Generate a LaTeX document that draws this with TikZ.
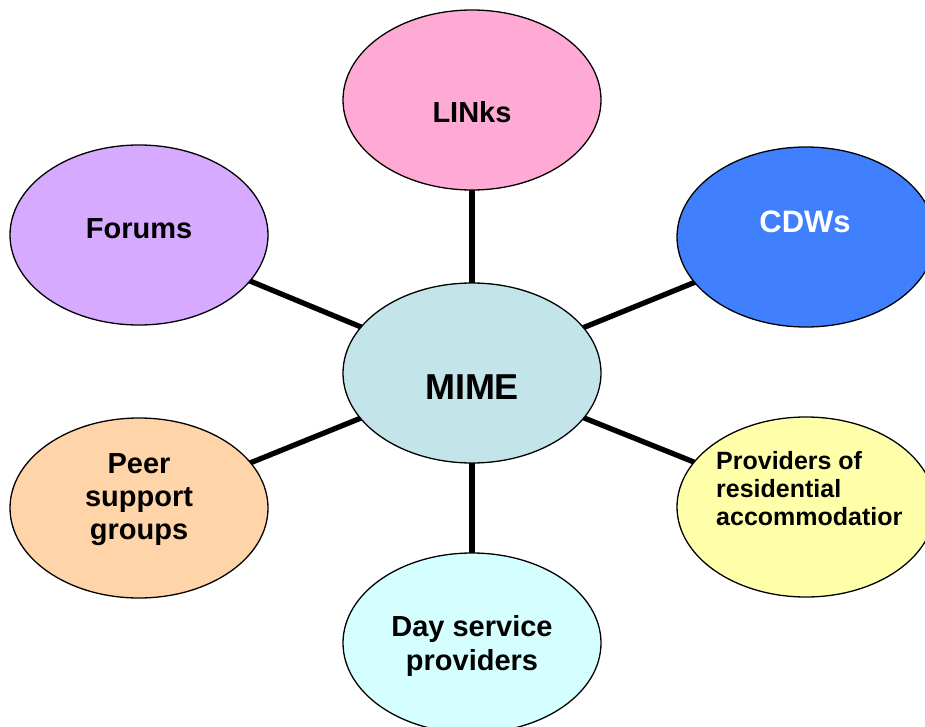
\documentclass[tikz,border=0pt]{standalone}
\usepackage{fontspec}
\setmainfont{Liberation Sans}
\usetikzlibrary{shapes.geometric,backgrounds}
\definecolor{cpink}{HTML}{FFAAD4}
\definecolor{cviolet}{HTML}{D5AAFF}
\definecolor{cblue}{HTML}{4080FF}
\definecolor{cmime}{HTML}{C3E4E8}
\definecolor{cpeach}{HTML}{FFD4A8}
\definecolor{cyellow}{HTML}{FFFFAA}
\definecolor{ccyan}{HTML}{D5FFFF}
\tikzset{
  bubble/.style={ellipse, draw=black, line width=1.3pt, minimum width=258pt, minimum height=180pt, inner sep=0pt},
  lbl/.style={inner sep=0pt, font=\bfseries\fontsize{29}{34}\selectfont, align=center},
  link/.style={line width=5.3pt, black}
}
\begin{document}
\begin{tikzpicture}[x=1pt,y=-1pt]
\useasboundingbox (0,0) rectangle (925,727);
\node[bubble, fill=cpink] (links) at (472,100) {};
\node[bubble, fill=cviolet] (forums) at (139,235) {};
\node[bubble, fill=cblue] (cdws) at (806,237) {};
\node[bubble, fill=cmime] (mime) at (472,373) {};
\node[bubble, fill=cpeach] (peer) at (139,508) {};
\node[bubble, fill=cyellow] (prov) at (806,507) {};
\node[bubble, fill=ccyan] (day) at (472,643) {};
\begin{scope}[on background layer]
  \draw[link] (mime.center) -- (links.center);
  \draw[link] (mime.center) -- (forums.center);
  \draw[link] (mime.center) -- (cdws.center);
  \draw[link] (mime.center) -- (peer.center);
  \draw[link] (mime.center) -- (prov.center);
  \draw[link] (mime.center) -- (day.center);
\end{scope}
\node[lbl] (tlinks) at (472,112) {LINks};
\node[lbl] (tforums) at (139,229) {Forums};
\node[lbl, text=white, font=\bfseries\fontsize{31}{36}\selectfont] (tcdws) at (805,222) {CDWs};
\node[lbl, font=\bfseries\fontsize{36}{42}\selectfont] (tmime) at (472,387) {MIME};
\node[lbl, font=\bfseries\fontsize{29}{33}\selectfont] (tpeer) at (139,500) {Peer\\support\\groups};
\node[lbl] (tday) at (472,646) {Day service\\providers};
\begin{scope}
  \clip (0,0) rectangle (901,727);
  \node[lbl, anchor=west, align=left, font=\bfseries\fontsize{25}{28}\selectfont] (tprov) at (716,489) {Providers of\\residential\\accommodation};
\end{scope}
\end{tikzpicture}
\end{document}
